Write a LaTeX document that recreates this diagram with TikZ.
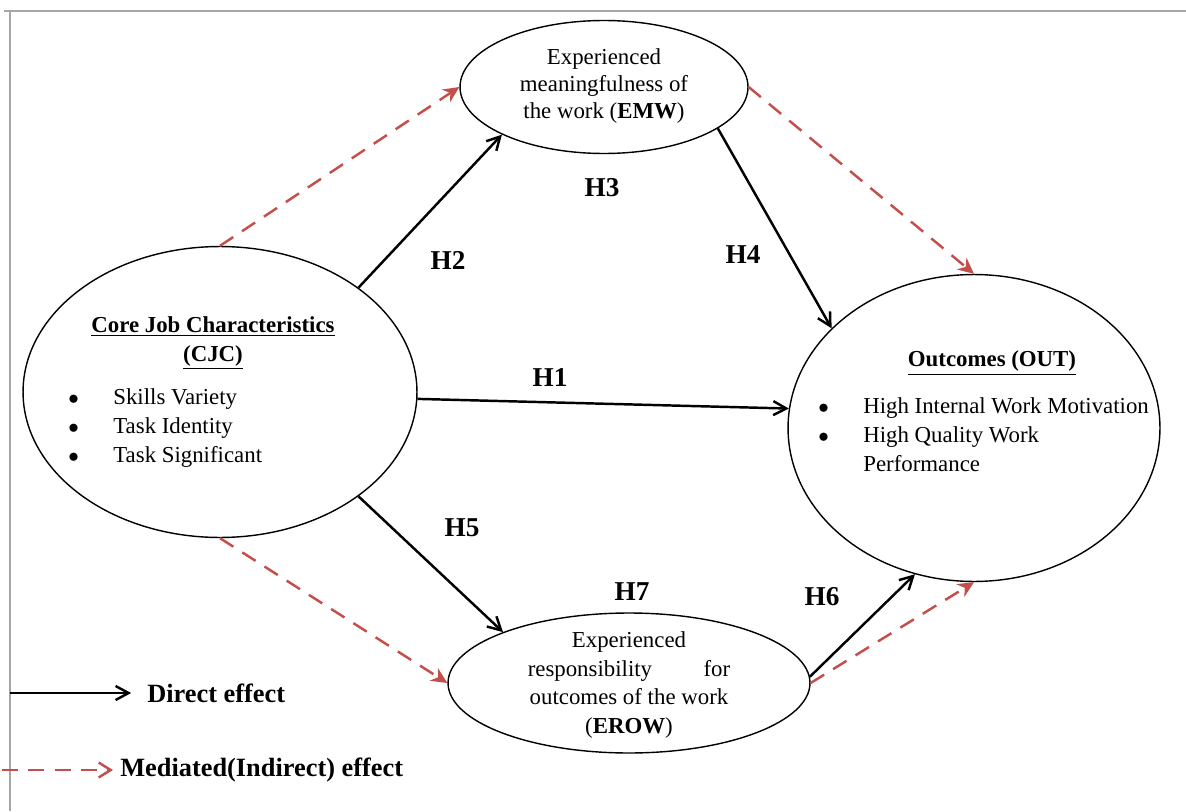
\documentclass[tikz,border=0pt]{standalone}
\usepackage{fontspec}
\setmainfont{Liberation Serif}
\usetikzlibrary{arrows.meta,positioning,shapes.geometric}
\definecolor{medred}{RGB}{196,78,74}
\newcommand{\bul}{\makebox[0.9cm][l]{$\bullet$}}

\begin{document}
\begin{tikzpicture}[x=0.02cm, y=-0.02cm,
  oval/.style={draw, ellipse, line width=0.8pt, inner sep=0pt},
  arr/.style={-{Straight Barb[length=2.6mm,width=2.8mm]}, line width=1.4pt},
  med/.style={-{Stealth[length=3.2mm,width=3mm]}, medred, line width=1.4pt,
    dash pattern=on 9pt off 6pt},
  hyp/.style={font=\fontsize{15.5}{18}\selectfont\bfseries},
  txt/.style={font=\fontsize{13}{16.5}\selectfont, inner sep=0pt},
  leg/.style={font=\fontsize{15}{18}\selectfont\bfseries, inner sep=0pt, anchor=west}
]
\useasboundingbox (0,0) rectangle (1186,811);
% frame
\draw[gray!70, line width=1pt] (4,11) -- (1186,11);
\draw[gray!70, line width=0.8pt] (10,11) -- (10,811);

% constructs
\node[oval, minimum width=7.88cm, minimum height=5.82cm] (cjc) at (220,392) {};
\node[oval, minimum width=5.76cm, minimum height=2.66cm] (emw) at (604,87) {};
\node[oval, minimum width=7.44cm, minimum height=6.14cm] (out) at (974,428) {};
\node[oval, minimum width=7.24cm, minimum height=2.80cm] (erow) at (629,683) {};

% texts
\node[txt, align=center] (cjctitle) at (213,343)
  {\underline{\textbf{Core Job Characteristics}}\\\underline{\textbf{(CJC)}}};
\node[txt, align=left, anchor=west] (cjclist) at (68,428)
  {\bul Skills Variety\\
   \bul Task Identity\\
   \bul Task Significant};
\node[txt, align=center, font=\fontsize{13}{15.5}\selectfont] (emwtxt) at (604,86)
  {Experienced\\meaningfulness of\\the work (\textbf{EMW})};
\node[txt, align=center] (outtitle) at (992,363)
  {\underline{\textbf{Outcomes (OUT)}}};
\node[txt, align=left, anchor=west] (outlist) at (818,435)
  {\bul High Internal Work Motivation\\
   \bul High Quality Work\\
   \hspace*{0.9cm}Performance};
\node[txt, align=center] (erowtxt) at (629,685)
  {Experienced\\\makebox[4.05cm]{responsibility\hfill for}\\
   outcomes of the work\\(\textbf{EROW})};

% direct paths
\draw[arr] (cjc.37) -- (emw.205);
\draw[arr] (emw.340) -- (out.145);
\draw[arr] (cjc.358.5) -- (out.174.5);
\draw[arr] (cjc.323) -- (erow.158);
\draw[arr] (erow.2) -- (out.248);

% mediated paths
\draw[med] (cjc.north) -- (emw.west);
\draw[med] (emw.east) -- (out.north);
\draw[med] (cjc.south) -- (erow.west);
\draw[med] (erow.east) -- (out.south);

% hypotheses
\node[hyp] (h1) at (550,378) {H1};
\node[hyp] (h2) at (448,260) {H2};
\node[hyp] (h3) at (602,188) {H3};
\node[hyp] (h4) at (743,255) {H4};
\node[hyp] (h5) at (462,528) {H5};
\node[hyp] (h6) at (822,597) {H6};
\node[hyp] (h7) at (632,592) {H7};

% legend
\coordinate (d0) at (10,693);
\node[leg] (direct) at (147,693) {Direct effect};
\draw[arr] (d0) -- ([xshift=-9pt]direct.west);
\coordinate (m0) at (2,770);
\node[leg] (mediated) at (120,770) {Mediated(Indirect) effect};
\draw[med, -{Straight Barb[length=2.4mm,width=3mm]}] (m0) -- ([xshift=-4pt]mediated.west);
\end{tikzpicture}
\end{document}
